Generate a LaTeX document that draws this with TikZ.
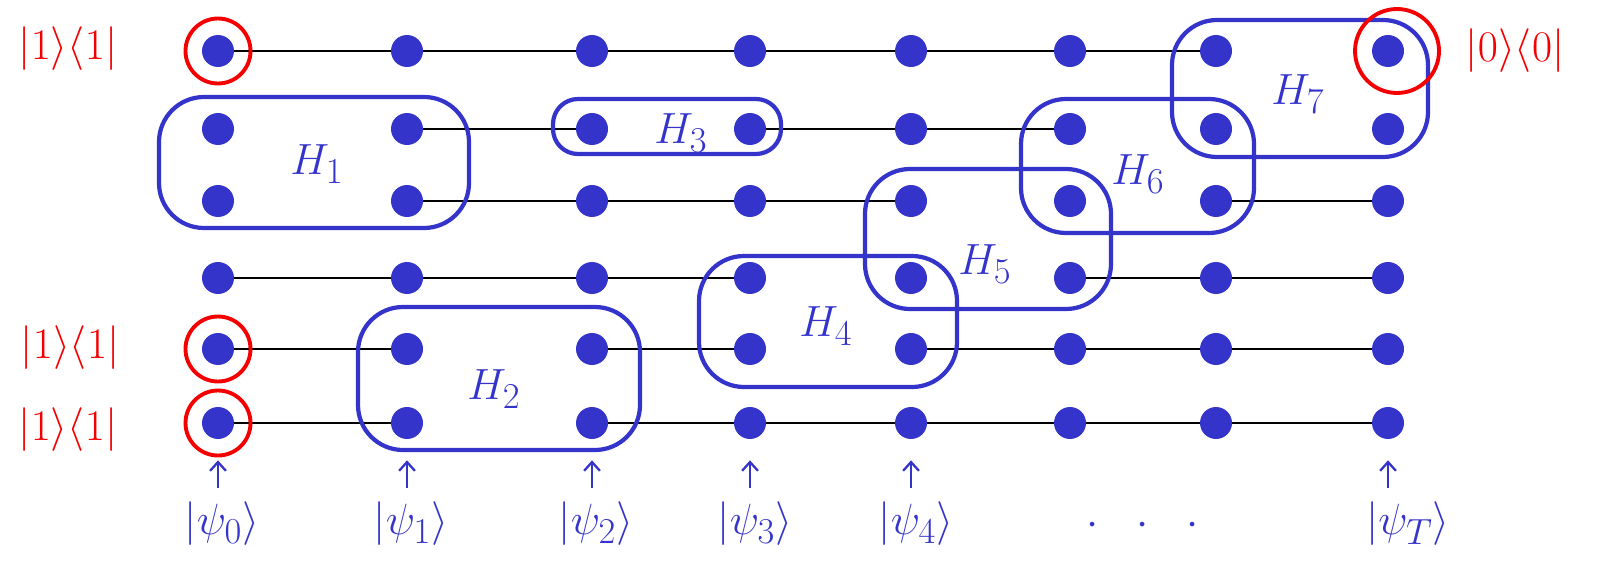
\documentclass[tikz,border=0pt]{standalone}
\usepackage{amsmath}
\usepackage{xcolor}
\usepackage{tikz}
\usetikzlibrary{arrows.meta}

\definecolor{penblue}{RGB}{52,52,202}
\definecolor{penred}{RGB}{245,0,0}

\begin{document}
\begin{tikzpicture}[x=0.02cm, y=-0.02cm,
    qubit/.style={circle, fill=penblue, inner sep=0pt, minimum size=0.64cm},
    wire/.style={black, line width=1.6pt},
    hbox/.style={penblue, line width=2.4pt, rounded corners=0.9cm},
    ring/.style={penred, line width=2.2pt},
    proj/.style={penred, font=\fontsize{28}{30}\selectfont},
    hlabel/.style={penblue, font=\fontsize{29}{31}\selectfont},
    ket/.style={penblue, inner sep=0pt, font=\fontsize{32}{34}\selectfont},
    tick/.style={penblue, line width=1.3pt, -{Straight Barb[length=5pt, width=9pt]},
                 shorten <=0.28cm, shorten >=0.42cm}]
\useasboundingbox (0,0) rectangle (1605,564);

% qubits: columns 0..7, rows 1..6
\foreach \c/\x in {0/218,1/407,2/592,3/750,4/911,5/1070,6/1216,7/1388} {
    \foreach \r/\y in {1/51,2/129,3/201,4/278,5/349,6/423} {
        \node[qubit] (q\c\r) at (\x,\y) {};
    }
}

% wires
\draw[wire] (q01) -- (q11) -- (q21) -- (q31) -- (q41) -- (q51) -- (q61);
\draw[wire] (q12) -- (q22);
\draw[wire] (q32) -- (q42) -- (q52);
\draw[wire] (q13) -- (q23) -- (q33) -- (q43);
\draw[wire] (q63) -- (q73);
\draw[wire] (q04) -- (q14) -- (q24) -- (q34);
\draw[wire] (q54) -- (q64) -- (q74);
\draw[wire] (q05) -- (q15);
\draw[wire] (q25) -- (q35);
\draw[wire] (q45) -- (q55) -- (q65) -- (q75);
\draw[wire] (q06) -- (q16);
\draw[wire] (q26) -- (q36) -- (q46) -- (q56) -- (q66) -- (q76);

% local terms
\draw[hbox] (159,97) rectangle (469,228);
\draw[hbox] (358,307) rectangle (640,450);
\draw[hbox, rounded corners=0.5cm] (553,99) rectangle (781,154);
\draw[hbox] (699,256) rectangle (957,387);
\draw[hbox] (865,169) rectangle (1111,309);
\draw[hbox] (1021,99) rectangle (1254,233);
\draw[hbox] (1172,20) rectangle (1428,157);
\node[hlabel] (h1) at (317,164) {$H_1$};
\node[hlabel] (h2) at (494,389) {$H_2$};
\node[hlabel] (h3) at (681,133) {$H_3$};
\node[hlabel] (h4) at (826,326) {$H_4$};
\node[hlabel] (h5) at (985,264) {$H_5$};
\node[hlabel] (h6) at (1138,174) {$H_6$};
\node[hlabel] (h7) at (1298,94) {$H_7$};

% projectors
\foreach \n in {01,05,06} {
    \draw[ring] (q\n) circle[radius=0.65cm];
}
\draw[ring] ([xshift=0.18cm]q71.center) circle[radius=0.84cm];
\node[proj] (p1) at (68,49) {$|1\rangle\langle 1|$};
\node[proj] (p5) at (70,348) {$|1\rangle\langle 1|$};
\node[proj] (p6) at (68,430) {$|1\rangle\langle 1|$};
\node[proj] (p0) at (1515,51) {$|0\rangle\langle 0|$};

% states
\foreach \c/\x/\s in {0/222/0,1/411/1,2/596/2,3/755/3,4/916/4,7/1408/T} {
    \node[ket] (psi\c) at (\x,524) {$|\psi_\s\rangle$};
    \draw[tick] (psi\c.north -| q\c6) -- (q\c6);
}
\node[ket] (dots) at (1143,526) {$\cdot\enspace\cdot\enspace\cdot$};
\end{tikzpicture}
\end{document}
